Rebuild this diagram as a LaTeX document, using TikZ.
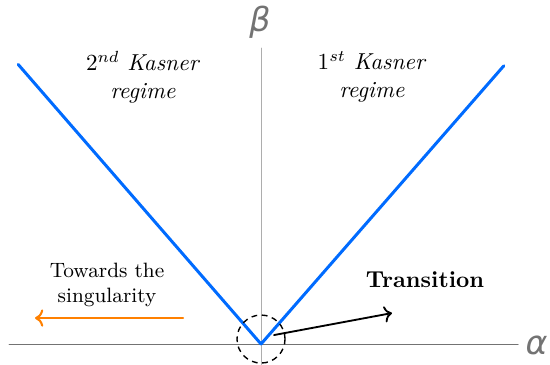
\documentclass[tikz,border=0pt]{standalone}
\usepackage{fontspec}
\usepackage{tkz-euclide}
\usetikzlibrary{arrows,calc}
\newfontfamily\axisfont{DejaVu Sans}
\definecolor{KasnerClr}{rgb}{0,0.42,1}
\definecolor{SingClr}{rgb}{1,0.5,0}
\definecolor{AxisClr}{gray}{0.45}
\definecolor{BetaClr}{gray}{0.68}

\begin{document}
\begin{tikzpicture}
\useasboundingbox (-3.978,-0.305) rectangle (4.404,5.243);
\tkzSetUpLine[line width=0.8pt,color=black]

\tkzDefPoints{0/0/O,-3.84/0/XL,3.92/0/XR,0/4.51/YT,0/-0.31/YB}
\tkzDefPoints{-3.70/4.26/KL,3.70/4.24/KR}
\tkzDefPoints{0/0.076/C,0.366/0.076/Q}
\tkzDefPoints{0.198/0.137/TS,1.996/0.472/TE}
\tkzDefPoints{-1.189/0.396/SS,-3.444/0.396/SE}

% axes
\tkzDrawSegment[line width=0.4pt,color=AxisClr](XL,XR)
\tkzDrawSegment[line width=0.4pt,color=BetaClr](YB,YT)

% the two Kasner walls
\tkzDrawSegments[line width=1.3pt,color=KasnerClr](KL,O O,KR)

\tkzDrawCircle[line width=0.6pt,color=black,dash pattern=on 2.5pt off 2pt](C,Q)
\tkzDrawSegment[->](TS,TE)
\tkzDrawSegment[->,line width=0.9pt,color=SingClr](SS,SE)

\node (beta) at (-0.015,4.907) {\axisfont\Large\itshape\color{AxisClr}β};
\node (alpha) at (4.2,-0.02) {\axisfont\Large\itshape\color{AxisClr}α};

\node[align=center] (second) at (-1.798,4.069) {$2^{nd}$ \textit{Kasner}\\\textit{regime}};
\node[align=center] (first) at (1.692,4.069) {$1^{st}$ \textit{Kasner}\\\textit{regime}};
\node[align=center,font=\small] (towards) at (-2.347,0.899) {Towards the\\singularity};
\node (trans) at (2.499,0.975) {\textbf{Transition}};

\end{tikzpicture}
\end{document}
